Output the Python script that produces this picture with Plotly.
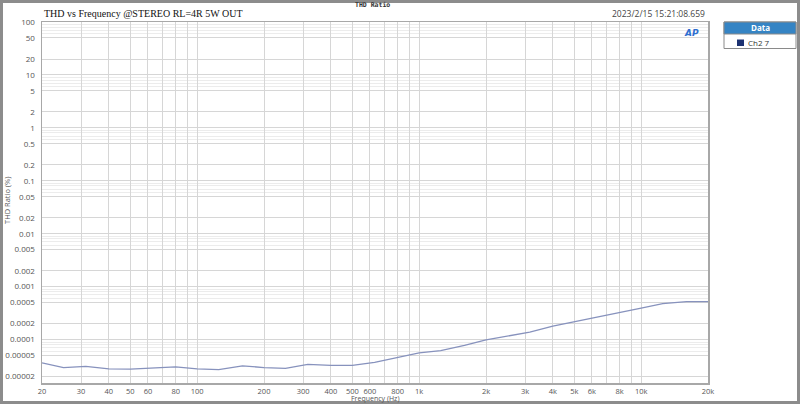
import plotly.graph_objects as go
import math

# ---- data ----
freq_hz = [20, 25, 31.5, 40, 50, 63, 80, 100, 125, 160, 200, 250, 315, 400, 500, 630,
           800, 1000, 1250, 1600, 2000, 2500, 3150, 4000, 5000, 6300, 8000, 10000,
           12500, 16000, 20000]
thd_pct = [3.63e-5, 2.96e-5, 3.13e-5, 2.80e-5, 2.77e-5, 2.93e-5, 3.06e-5, 2.80e-5,
           2.70e-5, 3.20e-5, 2.96e-5, 2.86e-5, 3.40e-5, 3.27e-5, 3.27e-5, 3.73e-5,
           4.64e-5, 5.60e-5, 6.20e-5, 7.76e-5, 9.90e-5, 1.18e-4, 1.38e-4, 1.80e-4,
           2.17e-4, 2.59e-4, 3.16e-4, 3.93e-4, 4.78e-4, 5.20e-4, 5.20e-4]

x_tick_vals = [20, 30, 40, 50, 60, 70, 80, 90, 100, 200, 300, 400, 500, 600, 700, 800, 900,
               1000, 2000, 3000, 4000, 5000, 6000, 7000, 8000, 9000, 10000, 20000]
x_tick_text = ["20", "30", "40", "50", "60", "", "80", "", "100", "200", "300", "400", "500",
               "600", "", "800", "", "1k", "2k", "3k", "4k", "5k", "6k", "", "8k", "", "10k", "20k"]

y_tick_vals = [100, 50, 20, 10, 5, 2, 1, 0.5, 0.2, 0.1, 0.05, 0.02, 0.01, 0.005, 0.002,
               0.001, 0.0005, 0.0002, 0.0001, 0.00005, 0.00002]
y_tick_text = ["100", "50", "20", "10", "5", "2", "1", "0.5", "0.2", "0.1", "0.05", "0.02",
               "0.01", "0.005", "0.002", "0.001", "0.0005", "0.0002", "0.0001", "0.00005",
               "0.00002"]
y_minor_vals = [m * 10.0 ** k for k in range(-5, 2) for m in (6, 7, 8, 9)]

title_text = "THD vs Frequency @STEREO RL=4R 5W OUT"
top_text = "THD Ratio"
stamp_text = "2023/2/15 15:21:08.659"
legend_title = "Data"
legend_entry = "Ch2 7"
x_title = "Frequency (Hz)"
y_title = "THD Ratio (%)"

# ---- layout geometry (pixels) ----
W, H = 800, 404
L, R, T, B = 42, 92, 22, 21
pw, ph = W - L - R, H - T - B


def px(x):
    return (x - L) / pw


def py(y):
    return (H - B - y) / ph


fig = go.Figure()
fig.add_trace(go.Scatter(x=freq_hz, y=thd_pct, mode="lines",
                         line=dict(color="#8792bd", width=1.3), name=legend_entry,
                         showlegend=False, hoverinfo="skip"))

shapes = [
    dict(type="rect", xref="paper", yref="paper", x0=px(3), x1=px(797), y0=py(401), y1=py(3),
         fillcolor="white", line=dict(width=0), layer="below"),
    dict(type="rect", xref="paper", yref="paper", x0=px(724), x1=px(796), y0=py(48.5), y1=py(22),
         fillcolor="white", line=dict(color="#8a8a8a", width=1)),
    dict(type="rect", xref="paper", yref="paper", x0=px(724), x1=px(796), y0=py(34), y1=py(22),
         fillcolor="#3584c4", line=dict(color="#8a8a8a", width=1)),
    dict(type="rect", xref="paper", yref="paper", x0=px(737), x1=px(744), y0=py(46), y1=py(39.5),
         fillcolor="#1d3272", line=dict(width=0)),
]

annotations = [
    dict(text=title_text, xref="paper", yref="paper", x=px(42), y=py(13), xanchor="left",
         yanchor="middle", showarrow=False,
         font=dict(family="Liberation Serif", size=10, color="#111")),
    dict(text="<b>" + top_text + "</b>", xref="paper", yref="paper", x=px(372), y=py(5),
         xanchor="center", yanchor="middle", showarrow=False,
         font=dict(family="DejaVu Sans Mono", size=6.5, color="#333")),
    dict(text=stamp_text, xref="paper", yref="paper", x=px(707), y=py(14), xanchor="right",
         yanchor="middle", showarrow=False,
         font=dict(family="Open Sans", size=8.5, color="#444")),
    dict(text="<b><i>AP</i></b>", xref="paper", yref="paper", x=px(701), y=py(33),
         xanchor="right", yanchor="middle", showarrow=False,
         font=dict(family="DejaVu Sans", size=9, color="#2f6fd0")),
    dict(text="<b>" + legend_title + "</b>", xref="paper", yref="paper", x=px(760), y=py(28),
         xanchor="center", yanchor="middle", showarrow=False,
         font=dict(family="Open Sans", size=8, color="white")),
    dict(text=legend_entry, xref="paper", yref="paper", x=px(746), y=py(42.5),
         xanchor="left", yanchor="middle", showarrow=False,
         font=dict(family="Open Sans", size=8, color="#333")),
    dict(text=x_title, xref="paper", yref="paper", x=px(375), y=py(398), xanchor="center",
         yanchor="middle", showarrow=False,
         font=dict(family="Open Sans", size=7, color="#555")),
    dict(text=y_title, xref="paper", yref="paper", x=px(7), y=py(200), xanchor="center",
         yanchor="middle", showarrow=False, textangle=-90,
         font=dict(family="Open Sans", size=7.5, color="#555")),
]

fig.update_layout(
    width=W, height=H,
    margin=dict(l=L, r=R, t=T, b=B, pad=0, autoexpand=False),
    paper_bgcolor="#8c8c8c", plot_bgcolor="white",
    shapes=shapes, annotations=annotations,
    showlegend=False, hovermode=False,
    xaxis=dict(type="log", range=[math.log10(20), math.log10(20000)],
               tickmode="array", tickvals=x_tick_vals, ticktext=x_tick_text,
               tickangle=0, automargin=False,
               showgrid=True, gridcolor="#d6d6d6", gridwidth=1,
               showline=True, linecolor="#a8a8a8", linewidth=1.5, mirror=True,
               ticks="", ticklabelstandoff=0,
               tickfont=dict(family="Open Sans", size=7.5, color="#555"),
               zeroline=False),
    yaxis=dict(type="log", range=[-4.82, 2.0],
               tickmode="array", tickvals=y_tick_vals, ticktext=y_tick_text,
               automargin=False,
               showgrid=True, gridcolor="#d6d6d6", gridwidth=1,
               minor=dict(tickvals=y_minor_vals, showgrid=True, gridcolor="#ececec",
                          gridwidth=1, ticks=""),
               showline=True, linecolor="#a8a8a8", linewidth=1.5, mirror=True,
               ticks="", ticklabelstandoff=4,
               tickfont=dict(family="Open Sans", size=8, color="#555"),
               zeroline=False),
)

fig.write_html("out.html", config={"displayModeBar": False, "staticPlot": True},
               post_script="document.body.style.margin='0px';")
